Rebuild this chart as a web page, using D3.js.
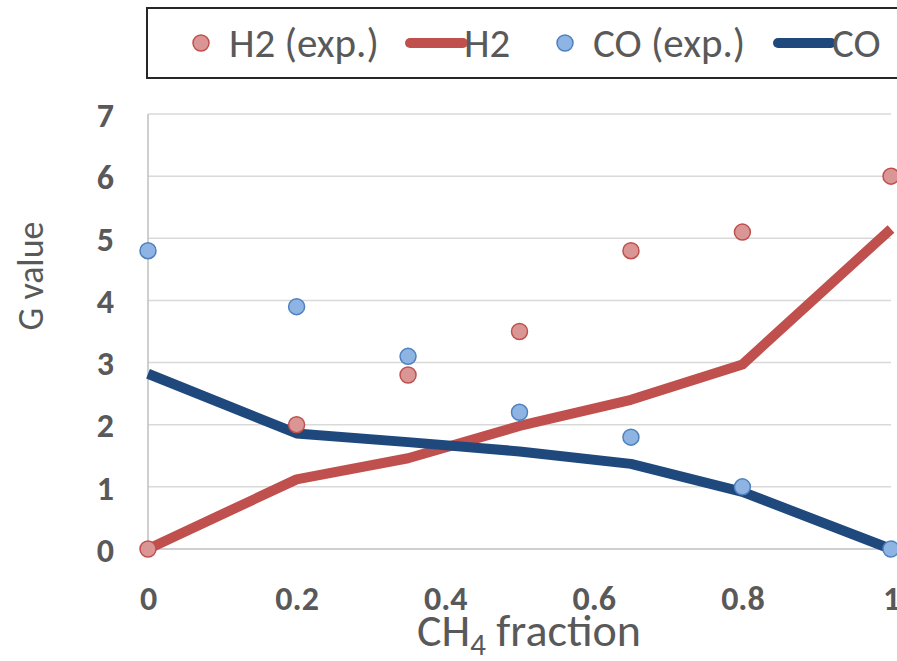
<!DOCTYPE html>
<html>
<head>
<meta charset="utf-8">
<script src="https://cdn.jsdelivr.net/npm/d3@7"></script>
<style>
  body { margin: 0; background: #fff; }
  text { font-family: Carlito, Calibri, "Liberation Sans Narrow", "Liberation Sans", sans-serif; }
</style>
</head>
<body>
<div id="container"></div>
<script>
// CH4 fraction values and G values
var fractions = [0, 0.2, 0.35, 0.5, 0.65, 0.8, 1];
var h2Exp = [0, 2.0, 2.8, 3.5, 4.8, 5.1, 6.0];
var h2Model = [0, 1.12, 1.46, 1.98, 2.4, 2.97, 5.15];
var coExp = [4.8, 3.9, 3.1, 2.2, 1.8, 1.0, 0];
var coModel = [2.82, 1.86, 1.72, 1.57, 1.37, 0.92, 0];
var xTicks = [0, 0.2, 0.4, 0.6, 0.8, 1];
var yTicks = [0, 1, 2, 3, 4, 5, 6, 7];

var width = 897, height = 661;
var margin = {top: 114, right: 6, bottom: 112, left: 148};

var x = d3.scaleLinear()
    .domain([0, 1])
    .range([margin.left, width - margin.right]);

var y = d3.scaleLinear()
    .domain([0, 7])
    .range([height - margin.bottom, margin.top]);

var svg = d3.select("#container").append("svg")
    .attr("width", width)
    .attr("height", height);

// horizontal gridlines
svg.append("g")
    .selectAll("line")
    .data(yTicks)
    .join("line")
    .attr("x1", x(0))
    .attr("x2", x(1))
    .attr("y1", function(d) { return y(d); })
    .attr("y2", function(d) { return y(d); })
    .attr("stroke", function(d) { return d === 0 ? "#bfbfbf" : "#d9d9d9"; })
    .attr("stroke-width", 1.5);

// vertical axis line
svg.append("line")
    .attr("x1", x(0)).attr("x2", x(0))
    .attr("y1", y(0)).attr("y2", y(7))
    .attr("stroke", "#bfbfbf")
    .attr("stroke-width", 1.5);

var yAxis = d3.axisLeft(y)
    .tickValues(yTicks)
    .tickSize(0)
    .tickPadding(0)
    .tickFormat(d3.format("d"));

var gy = svg.append("g")
    .attr("transform", "translate(" + (x(0) - 34) + ",0)")
    .call(yAxis);

var xAxis = d3.axisBottom(x)
    .tickValues(xTicks)
    .tickSize(0)
    .tickPadding(0)
    .tickFormat(function(d) { return d === 0 || d === 1 ? d : d3.format(".1f")(d); });

var gx = svg.append("g")
    .attr("transform", "translate(0," + (y(0) + 49) + ")")
    .call(xAxis);

[gx, gy].forEach(function(g) {
    g.select(".domain").remove();
    g.selectAll("text")
        .attr("fill", "#595959")
        .attr("font-weight", "bold")
        .attr("font-size", "34px")
        .style("font-family", "Carlito, Calibri, 'Liberation Sans Narrow', 'Liberation Sans', sans-serif");
});
gy.selectAll("text").attr("dy", "0.36em");
gx.selectAll("text").attr("dy", "0.36em");

// axis titles
svg.append("text")
    .attr("transform", "translate(43," + 276 + ") rotate(-90)")
    .attr("text-anchor", "middle")
    .attr("fill", "#595959")
    .attr("font-size", "36px")
    .text("G value");

var xTitle = svg.append("text")
    .attr("x", 529)
    .attr("y", 646)
    .attr("text-anchor", "middle")
    .attr("fill", "#595959")
    .attr("font-size", "46px");
xTitle.append("tspan").text("CH");
xTitle.append("tspan").attr("font-size", "31px").attr("dy", 9).text("4");
xTitle.append("tspan").attr("dy", -9).text(" fraction");

var line = d3.line()
    .x(function(d) { return x(d[0]); })
    .y(function(d) { return y(d[1]); });

var zip = function(vals) { return fractions.map(function(f, i) { return [f, vals[i]]; }); };

svg.append("path")
    .datum(zip(h2Model))
    .attr("d", line)
    .attr("fill", "none")
    .attr("stroke", "#c0504d")
    .attr("stroke-width", 10)
    .attr("stroke-linejoin", "round");

svg.append("path")
    .datum(zip(coModel))
    .attr("d", line)
    .attr("fill", "none")
    .attr("stroke", "#1f497d")
    .attr("stroke-width", 10)
    .attr("stroke-linejoin", "round");

svg.append("g")
    .selectAll("circle")
    .data(zip(h2Exp))
    .join("circle")
    .attr("cx", function(d) { return x(d[0]); })
    .attr("cy", function(d) { return y(d[1]); })
    .attr("r", 8)
    .attr("fill", "#da9694")
    .attr("stroke", "#c0504d")
    .attr("stroke-width", 1.5);

svg.append("g")
    .selectAll("circle")
    .data(zip(coExp))
    .join("circle")
    .attr("cx", function(d) { return x(d[0]); })
    .attr("cy", function(d) { return y(d[1]); })
    .attr("r", 8)
    .attr("fill", "#8db4e2")
    .attr("stroke", "#4f81bd")
    .attr("stroke-width", 1.5);

// legend
var legend = svg.append("g");
legend.append("rect")
    .attr("x", 147).attr("y", 8)
    .attr("width", 760).attr("height", 70)
    .attr("fill", "#fff")
    .attr("stroke", "#262626")
    .attr("stroke-width", 2);

var legendItems = [
    {label: "H2 (exp.)", type: "dot", fill: "#da9694", stroke: "#c0504d", x: 201},
    {label: "H2", type: "line", stroke: "#c0504d", x: 410},
    {label: "CO (exp.)", type: "dot", fill: "#8db4e2", stroke: "#4f81bd", x: 565},
    {label: "CO", type: "line", stroke: "#1f497d", x: 778}
];

legendItems.forEach(function(it) {
    var g = legend.append("g").attr("transform", "translate(" + it.x + ",43)");
    var tx;
    if (it.type === "dot") {
        g.append("circle").attr("r", 8).attr("fill", it.fill)
            .attr("stroke", it.stroke).attr("stroke-width", 1.5);
        tx = 28;
    } else {
        g.append("line").attr("x1", 0).attr("x2", 53)
            .attr("stroke", it.stroke).attr("stroke-width", 10)
            .attr("stroke-linecap", "round");
        tx = 54;
    }
    g.append("text").attr("x", tx).attr("dy", "0.35em")
        .attr("fill", "#595959").attr("font-size", "41px").text(it.label);
});
</script>
</body>
</html>
